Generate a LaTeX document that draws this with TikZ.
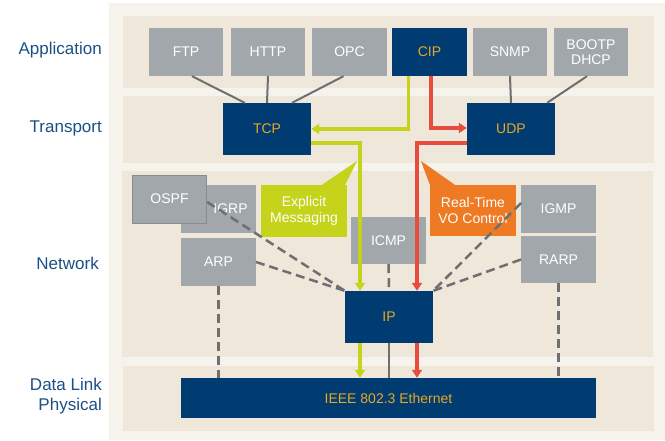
\documentclass[tikz,border=0pt]{standalone}
\usepackage{fontspec}
\setmainfont{Liberation Sans}
\usetikzlibrary{calc,arrows.meta}
\definecolor{navy}{HTML}{003B71}
\definecolor{gold}{HTML}{E9A823}
\definecolor{boxgrey}{HTML}{A2A7AB}
\definecolor{band}{HTML}{EFE8DA}
\definecolor{outer}{HTML}{F6F3EC}
\definecolor{labelblue}{HTML}{1B4F85}
\definecolor{linegrey}{HTML}{6E6F71}
\definecolor{msggreen}{HTML}{C5D31B}
\definecolor{iored}{HTML}{E84C3D}
\definecolor{ioorange}{HTML}{EE7A23}
\tikzstyle{greybox} = [rectangle, fill=boxgrey, text=white, align=center, inner sep=0pt, minimum width=74.5pt, minimum height=48pt, font=\fontsize{14}{15.5}\selectfont]
\tikzstyle{bluebox} = [rectangle, fill=navy, text=gold, align=center, inner sep=0pt, minimum width=88pt, minimum height=52pt, font=\fontsize{14}{15.5}\selectfont]
\tikzstyle{callout} = [rectangle, text=white, align=center, inner sep=0pt, minimum width=86pt, minimum height=52pt, font=\fontsize{14}{16.5}\selectfont]
\tikzstyle{layername} = [anchor=east, align=right, text=labelblue, inner sep=0pt, font=\fontsize{17}{20.5}\selectfont]
\tikzstyle{link} = [draw=linegrey, line width=2pt]
\tikzstyle{dashlink} = [draw=linegrey, line width=2.5pt, dash pattern=on 9pt off 5pt]
\tikzstyle{msgarrow} = [draw=msggreen, line width=3.5pt, -{Triangle[length=8pt,width=10pt]}]
\tikzstyle{ioarrow} = [draw=iored, line width=3.5pt, -{Triangle[length=8pt,width=10pt]}]

\begin{document}
\begin{tikzpicture}[x=1pt, y=-1pt]
        \useasboundingbox (0,0) rectangle (665,440);
        \fill [outer] (109,3) rectangle (665,440);
        \fill [band] (123,16) rectangle (654,88);
        \fill [band] (123,96) rectangle (654,163);
        \fill [band] (122,171) rectangle (653,357);
        \fill [band] (123,366) rectangle (654,431);
        \node (application) [layername] at (102,50) {Application};
        \node (transport) [layername] at (102,128) {Transport};
        \node (network) [layername] at (99,263) {Network};
        \node (datalink) [layername] at (102,396) {Data Link\\Physical};
        \node (ftp) [greybox] at (186,52) {FTP};
        \node (http) [greybox] at (268,52) {HTTP};
        \node (opc) [greybox] at (349.5,52) {OPC};
        \node (cip) [greybox, fill=navy, text=gold] at (429.5,52) {CIP};
        \node (snmp) [greybox] at (510,52) {SNMP};
        \node (bootp) [greybox] at (591,52) {BOOTP\\DHCP};
        \node (tcp) [bluebox] at (267,129) {TCP};
        \node (udp) [bluebox] at (511,129) {UDP};
        \node (igrp) [greybox] at (218.5,209) {\hspace*{24pt}IGRP};
        \node (ospf) [greybox, draw=linegrey!80, line width=0.8pt] at (169.5,199) {OSPF};
        \node (arp) [greybox] at (218.5,262) {ARP};
        \node (icmp) [greybox, minimum height=47pt] at (388.5,240.5) {ICMP};
        \node (igmp) [greybox] at (558.5,209) {IGMP};
        \node (rarp) [greybox, minimum height=47pt] at (558.5,259.5) {RARP};
        \node (ip) [bluebox] at (389,317) {IP};
        \node (eth) [bluebox, minimum width=415pt, minimum height=40pt] at (388.5,398) {IEEE 802.3 Ethernet};
        \node (explicit) [callout, fill=msggreen] at (304,211) {Explicit\\Messaging};
        \node (realtime) [callout, fill=ioorange, minimum height=51pt] at (473,210.5) {Real-Time\\VO Control};
        \coordinate (explicittip) at (357,161);
        \coordinate (realtimetip) at (421,161);
        \fill [msggreen] ([xshift=18pt]explicit.north) -- ([xshift=-2pt]explicit.north east) -- (explicittip) -- cycle;
        \fill [ioorange] (realtime.north west) -- ([xshift=25pt]realtime.north west) -- (realtimetip) -- cycle;
        \draw [link] ([xshift=6pt]ftp.south) -- ([xshift=22pt]tcp.north west);
        \draw [link] (http.south) -- (tcp.north);
        \draw [link] ([xshift=-6pt]opc.south) -- ([xshift=25pt]tcp.north);
        \draw [link] (snmp.south) -- (udp.north);
        \draw [link] ([xshift=-4pt]bootp.south) -- ([xshift=-8pt]udp.north east);
        \draw [msgarrow] ([xshift=-21pt]cip.south) |- (tcp.east);
        \draw [ioarrow] ([xshift=1.5pt]cip.south) |- ([yshift=1pt]udp.west);
        \draw [msgarrow] ([yshift=-14pt]tcp.east) -| ([xshift=-29pt]ip.north);
        \draw [ioarrow] ([yshift=-14pt]udp.west) -| ([xshift=28pt]ip.north);
        \draw [dashlink] ([yshift=-3pt]ospf.east) -- (ip.north west);
        \draw [dashlink] (arp.east) -- (ip.north west);
        \draw [dashlink] (icmp.south) -- (ip.north);
        \draw [dashlink] ([yshift=6pt]igmp.west) -- (ip.north east);
        \draw [dashlink] (rarp.west) -- (ip.north east);
        \draw [dashlink] (arp.south) -- (arp.south |- eth.north);
        \draw [dashlink] (rarp.south) -- (rarp.south |- eth.north);
        \draw [msgarrow] ([xshift=-29pt]ip.south) -- ([xshift=-29pt]ip.south |- eth.north);
        \draw [link] (ip.south) -- (ip.south |- eth.north);
        \draw [ioarrow] ([xshift=28pt]ip.south) -- ([xshift=28pt]ip.south |- eth.north);
    \end{tikzpicture}
\end{document}
